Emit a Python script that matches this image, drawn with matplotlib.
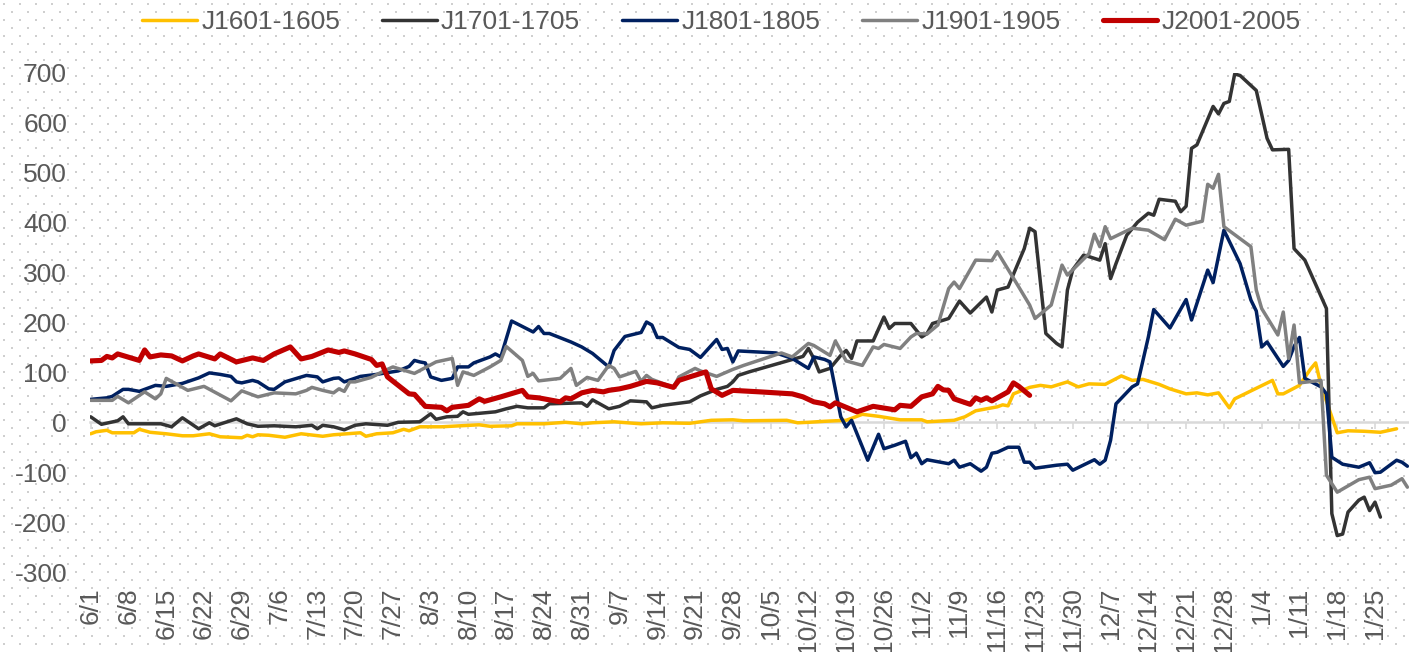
import pandas as pd
import matplotlib.pyplot as plt
import numpy as np

plt.rcParams["font.family"] = ["Liberation Sans", "DejaVu Sans"]
plt.rcParams["axes.unicode_minus"] = False

# ============================================================
# DATOS (fechas m/d, jun-dic + enero)
# ============================================================

j16_dates = ["6/1", "6/2", "6/4", "6/5", "6/9", "6/10", "6/12", "6/15", "6/18", "6/20",
             "6/23", "6/25", "6/29", "6/30", "7/1", "7/2", "7/4", "7/7", "7/10", "7/14",
             "7/16", "7/21", "7/22", "7/24", "7/27", "7/29", "7/30", "8/1", "8/5", "8/12",
             "8/14", "8/18", "8/19", "8/24", "8/28", "8/31", "9/2", "9/6", "9/11", "9/15",
             "9/20", "9/24", "9/28", "9/30", "10/8", "10/10", "10/12", "10/15", "10/19", "10/22",
             "10/25", "10/29", "11/2", "11/3", "11/8", "11/10", "11/12", "11/16", "11/17", "11/18",
             "11/19", "11/22", "11/24", "11/26", "11/29", "12/1", "12/3", "12/6", "12/9", "12/11",
             "12/13", "12/16", "12/18", "12/21", "12/23", "12/25", "12/27", "12/29", "12/30", "1/6",
             "1/7", "1/8", "1/11", "1/13", "1/14", "1/15", "1/18", "1/20", "1/23", "1/26", "1/29"]
j16_vals = [-23, -19, -16, -21, -21, -14, -20, -23, -27, -27,
            -23, -29, -31, -26, -29, -25, -26, -30, -23, -28,
            -25, -21, -28, -23, -21, -14, -17, -9, -9, -5,
            -8, -7, -3, -3, 0, -3, -1, 1, -3, -1,
            -2, 4, 5, 3, 4, -1, 0, 2, 4, 16,
            12, 5, 5, 1, 4, 11, 23, 31, 35, 33,
            57, 70, 74, 71, 81, 71, 77, 76, 93, 84,
            86, 76, 67, 57, 59, 55, 59, 29, 47, 84,
            57, 57, 74, 106, 119, 74, -21, -17, -18, -20, -13]

j17_dates = ["6/1", "6/3", "6/6", "6/7", "6/8", "6/14", "6/16", "6/18", "6/21", "6/23",
             "6/24", "6/28", "6/30", "7/2", "7/5", "7/9", "7/12", "7/13", "7/14", "7/16",
             "7/18", "7/20", "7/22", "7/26", "7/28", "8/1", "8/3", "8/4", "8/6", "8/8",
             "8/9", "8/10", "8/15", "8/17", "8/19", "8/21", "8/24", "8/25", "8/31", "9/1",
             "9/2", "9/5", "9/7", "9/9", "9/12", "9/13", "9/15", "9/20", "9/22", "9/25",
             "9/27", "9/28", "9/29", "10/1", "10/11", "10/12", "10/13", "10/14", "10/16", "10/18",
             "10/19", "10/20", "10/21", "10/24", "10/26", "10/27", "10/28", "10/31", "11/2", "11/3",
             "11/4", "11/7", "11/9", "11/11", "11/14", "11/15", "11/16", "11/18", "11/21", "11/22",
             "11/23", "11/25", "11/27", "11/28", "11/29", "11/30", "12/2", "12/3", "12/5", "12/6",
             "12/7", "12/8", "12/10", "12/12", "12/14", "12/15", "12/16", "12/19", "12/20", "12/21",
             "12/22", "12/23", "12/26", "12/27", "12/28", "12/29", "12/30", "12/31", "1/3", "1/5",
             "1/6", "1/9", "1/10", "1/12", "1/16", "1/17", "1/18", "1/19", "1/20", "1/22",
             "1/23", "1/24", "1/25", "1/26"]
j17_vals = [11, -4, 3, 11, -3, -3, -9, 9, -13, -1,
            -7, 7, -3, -8, -7, -9, -6, -13, -6, -9,
            -15, -6, -3, -6, 0, 1, 17, 6, 11, 12,
            21, 16, 21, 27, 32, 29, 29, 37, 39, 32,
            45, 27, 32, 43, 41, 29, 34, 41, 53, 66,
            72, 81, 94, 101, 132, 148, 128, 101, 108, 134,
            144, 128, 163, 163, 211, 188, 198, 198, 171, 178,
            198, 208, 243, 219, 251, 221, 265, 271, 348, 389,
            382, 178, 158, 151, 265, 306, 335, 332, 325, 358,
            288, 318, 375, 401, 419, 415, 447, 443, 422, 433,
            549, 556, 633, 618, 639, 643, 698, 695, 665, 569,
            546, 547, 348, 325, 228, -183, -227, -224, -180, -156,
            -150, -177, -160, -190]

j18_dates = ["6/1", "6/4", "6/5", "6/7", "6/8", "6/10", "6/12", "6/13", "6/15", "6/16",
             "6/18", "6/21", "6/23", "6/25", "6/27", "6/28", "6/29", "7/1", "7/2", "7/4",
             "7/5", "7/7", "7/11", "7/13", "7/14", "7/16", "7/17", "7/18", "7/21", "7/24",
             "7/28", "7/30", "7/31", "8/1", "8/2", "8/3", "8/5", "8/7", "8/8", "8/10",
             "8/11", "8/14", "8/15", "8/16", "8/18", "8/22", "8/23", "8/24", "8/25", "8/29",
             "8/31", "9/2", "9/5", "9/6", "9/8", "9/11", "9/12", "9/13", "9/14", "9/15",
             "9/18", "9/20", "9/22", "9/25", "9/26", "9/27", "9/28", "9/29", "10/6", "10/9",
             "10/12", "10/13", "10/15", "10/16", "10/18", "10/19", "10/20", "10/23", "10/25", "10/26",
             "10/28", "10/30", "10/31", "11/1", "11/2", "11/3", "11/7", "11/8", "11/9", "11/11",
             "11/13", "11/14", "11/15", "11/16", "11/18", "11/20", "11/21", "11/22", "11/23", "11/27",
             "11/29", "11/30", "12/4", "12/5", "12/6", "12/7", "12/8", "12/11", "12/12", "12/14",
             "12/15", "12/18", "12/21", "12/22", "12/25", "12/26", "12/28", "12/31", "1/2", "1/3",
             "1/4", "1/5", "1/8", "1/9", "1/10", "1/11", "1/12", "1/15", "1/16", "1/17",
             "1/19", "1/22", "1/24", "1/25", "1/26", "1/29", "1/30", "1/31"]
j18_vals = [46, 49, 52, 66, 66, 62, 70, 74, 72, 74,
            78, 89, 99, 96, 92, 81, 79, 84, 81, 67,
            66, 81, 94, 91, 81, 88, 89, 81, 92, 96,
            103, 112, 124, 121, 119, 91, 84, 88, 111, 111,
            119, 131, 137, 131, 203, 181, 192, 178, 178, 161,
            151, 138, 111, 144, 172, 180, 201, 195, 170, 170,
            150, 146, 130, 166, 146, 148, 121, 143, 139, 128,
            108, 131, 126, 121, 11, -9, 4, -76, -24, -53,
            -46, -38, -71, -62, -83, -75, -83, -76, -90, -83,
            -98, -90, -62, -60, -50, -50, -80, -80, -92, -86,
            -84, -96, -75, -84, -76, -36, 37, 71, 77, 171,
            226, 189, 246, 205, 305, 280, 385, 318, 245, 223,
            151, 161, 112, 124, 152, 170, 88, 71, 57, -70,
            -84, -90, -81, -101, -100, -76, -80, -88]

j19_dates = ["6/1", "6/5", "6/6", "6/8", "6/11", "6/13", "6/14", "6/15", "6/19", "6/22",
             "6/27", "6/29", "7/2", "7/5", "7/9", "7/11", "7/12", "7/14", "7/16", "7/17",
             "7/18", "7/19", "7/20", "7/23", "7/25", "7/27", "7/31", "8/4", "8/7", "8/8",
             "8/9", "8/11", "8/14", "8/16", "8/17", "8/20", "8/21", "8/22", "8/23", "8/27",
             "8/29", "8/30", "9/1", "9/3", "9/5", "9/6", "9/7", "9/10", "9/11", "9/12",
             "9/13", "9/17", "9/18", "9/21", "9/22", "9/25", "9/28", "9/30", "10/7", "10/9",
             "10/12", "10/13", "10/16", "10/17", "10/19", "10/22", "10/24", "10/25", "10/26", "10/29",
             "10/31", "11/1", "11/3", "11/5", "11/7", "11/8", "11/9", "11/12", "11/15", "11/16",
             "11/20", "11/22", "11/23", "11/26", "11/28", "11/29", "12/3", "12/4", "12/5", "12/6",
             "12/7", "12/11", "12/14", "12/17", "12/19", "12/21", "12/24", "12/25", "12/26", "12/27",
             "12/28", "1/2", "1/3", "1/4", "1/7", "1/8", "1/9", "1/10", "1/11", "1/15",
             "1/16", "1/18", "1/22", "1/24", "1/25", "1/28", "1/30", "1/31"]
j19_vals = [44, 44, 52, 39, 61, 47, 57, 88, 64, 72,
            43, 63, 51, 59, 57, 64, 70, 64, 59, 67,
            62, 81, 81, 90, 101, 111, 98, 121, 128, 74,
            101, 94, 111, 124, 152, 124, 92, 98, 83, 88,
            108, 74, 90, 84, 114, 108, 91, 102, 82, 94,
            86, 70, 91, 108, 103, 92, 106, 114, 139, 131,
            158, 154, 134, 163, 123, 114, 151, 148, 156, 148,
            171, 178, 177, 195, 268, 281, 268, 325, 324, 342,
            271, 235, 208, 235, 315, 295, 338, 377, 352, 392,
            368, 389, 385, 366, 407, 395, 403, 477, 469, 497,
            392, 352, 265, 228, 175, 221, 128, 195, 79, 84,
            -106, -140, -115, -110, -133, -126, -113, -130]

j20_dates = ["6/1", "6/3", "6/4", "6/5", "6/6", "6/10", "6/11", "6/12", "6/14", "6/16",
             "6/18", "6/20", "6/21", "6/24", "6/25", "6/28", "7/1", "7/3", "7/5", "7/8",
             "7/10", "7/12", "7/15", "7/17", "7/18", "7/20", "7/23", "7/24", "7/25", "7/26",
             "7/28", "7/30", "7/31", "8/2", "8/5", "8/6", "8/7", "8/10", "8/12", "8/13",
             "8/16", "8/20", "8/21", "8/23", "8/27", "8/28", "8/29", "8/31", "9/2", "9/4",
             "9/5", "9/7", "9/9", "9/12", "9/14", "9/17", "9/18", "9/20", "9/23", "9/24",
             "9/26", "9/28", "10/3", "10/9", "10/11", "10/13", "10/15", "10/16", "10/17", "10/21",
             "10/24", "10/28", "10/29", "10/31", "11/2", "11/4", "11/5", "11/6", "11/7", "11/8",
             "11/11", "11/12", "11/13", "11/14", "11/15", "11/18", "11/19", "11/20", "11/22"]
j20_vals = [123, 124, 132, 129, 137, 124, 145, 131, 135, 133,
            123, 133, 137, 127, 137, 121, 129, 124, 137, 151,
            127, 132, 145, 140, 143, 137, 126, 114, 117, 91,
            74, 57, 56, 32, 30, 23, 30, 34, 47, 42,
            51, 64, 51, 49, 41, 49, 47, 59, 64, 61,
            64, 67, 72, 82, 79, 70, 84, 91, 101, 67,
            54, 64, 61, 57, 51, 41, 37, 31, 39, 21,
            32, 25, 34, 32, 51, 57, 72, 65, 64, 47,
            36, 49, 44, 49, 43, 61, 79, 72, 54]

tick_labels = ["6/1", "6/8", "6/15", "6/22", "6/29", "7/6", "7/13", "7/20", "7/27",
               "8/3", "8/10", "8/17", "8/24", "8/31", "9/7", "9/14", "9/21", "9/28",
               "10/5", "10/12", "10/19", "10/26", "11/2", "11/9", "11/16", "11/23",
               "11/30", "12/7", "12/14", "12/21", "12/28", "1/4", "1/11", "1/18", "1/25"]

SERIES = [
    ("J1601-1605", j16_dates, j16_vals, "#FFC000", 2.5),
    ("J1701-1705", j17_dates, j17_vals, "#333333", 2.5),
    ("J1801-1805", j18_dates, j18_vals, "#002060", 2.5),
    ("J1901-1905", j19_dates, j19_vals, "#808080", 2.5),
    ("J2001-2005", j20_dates, j20_vals, "#C00000", 3.7),
]


def a_fechas(md):
    # jun-dic en un año, enero en el siguiente
    out = []
    for s in md:
        m, d = (int(v) for v in s.split("/"))
        out.append(pd.Timestamp(2019 if m >= 6 else 2020, m, d))
    return out


# ============================================================
# GRÁFICO
# ============================================================

W, H = 1409, 652
fig = plt.figure(figsize=(W / 100, H / 100), dpi=100)
fig.patch.set_facecolor("white")

# fondo punteado (trama tipo Excel)
bg = fig.add_axes([0, 0, 1, 1], zorder=-5)
bg.set_axis_off()
bg.set_xlim(0, W)
bg.set_ylim(H, 0)
px, py = [], []
for i, yy in enumerate(np.arange(4, H, 8)):
    xs = np.arange(4 if i % 2 == 0 else 12, W, 16)
    px.extend(xs)
    py.extend([yy] * len(xs))
bg.scatter(px, py, s=2.0, marker="s", color="#cfcfcf", linewidths=0)

ax = fig.add_axes([90 / W, 80 / H, (W - 90) / W, 499 / H])
ax.set_facecolor("none")

lines = []
for name, fechas, vals, color, lw in SERIES:
    ln, = ax.plot(a_fechas(fechas), vals, color=color, linewidth=lw, label=name,
                  solid_joinstyle="round", solid_capstyle="round")
    lines.append(ln)

inicio = pd.Timestamp(2019, 6, 1)
ax.set_xlim(inicio - pd.Timedelta(hours=3), inicio + pd.Timedelta(days=244.3))
ax.set_ylim(-300, 700)
ax.set_yticks(range(-300, 701, 100))

for s in ax.spines.values():
    s.set_visible(False)

ticks = a_fechas(tick_labels)
ax.set_xticks(ticks)
ax.set_xticklabels(tick_labels, rotation=90)
ax.tick_params(axis="x", length=0, pad=11, labelsize=19, labelcolor="#595959")
ax.tick_params(axis="y", length=0, pad=16.5, labelsize=19, labelcolor="#595959")

# línea de cero con marcas semanales
eje0 = ax.secondary_xaxis(0.3)
eje0.set_xticks(ticks)
eje0.set_xticklabels([])
eje0.spines["bottom"].set_color("#d9d9d9")
eje0.spines["bottom"].set_linewidth(1.8)
eje0.tick_params(axis="x", direction="out", length=5, width=1.2, color="#d9d9d9")

fig.legend(handles=lines, loc="center", bbox_to_anchor=(0.512, 1 - 22 / H),
           ncol=5, frameon=False, fontsize=19, labelcolor="#595959",
           handlelength=2.08, handletextpad=0.15, columnspacing=1.6)

plt.savefig("out.png", dpi=100)
